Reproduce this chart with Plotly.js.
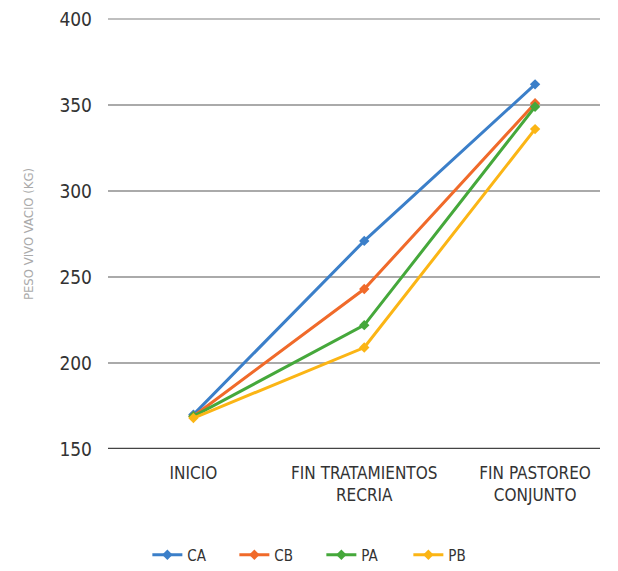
<!DOCTYPE html>
<html><head><meta charset="utf-8">
<script src="https://cdn.plot.ly/plotly-3.0.1.min.js"></script>
<style>body{margin:0;background:#fff}#c{width:618px;height:571px}</style>
</head><body><div id="c"></div>
<script>
const categories = ["INICIO", "FIN TRATAMIENTOS<br>RECRIA", "FIN PASTOREO<br>CONJUNTO"];
const CA = [170, 271, 362];
const CB = [169, 243, 351];
const PA = [169, 222, 349];
const PB = [168, 209, 336];
const seriesNames = ["CA", "CB", "PA", "PB"];
const seriesValues = [CA, CB, PA, PB];
const colors = ["#3b7fc9", "#f06a2a", "#45a83b", "#fbb515"];

const traces = seriesValues.map((v, i) => ({
  type: "scatter", mode: "lines+markers", name: seriesNames[i],
  x: [0, 1, 2], y: v,
  line: {color: colors[i], width: 3},
  marker: {symbol: "diamond", size: 8, color: colors[i]}
}));

const FONT = "DejaVu Sans Condensed, Liberation Sans Narrow, Arial Narrow, sans-serif";
const layout = {
  width: 618, height: 571,
  margin: {l: 108, r: 18, t: 19, b: 122},
  paper_bgcolor: "#fff", plot_bgcolor: "#fff",
  font: {family: FONT, color: "#333"},
  showlegend: true,
  legend: {orientation: "h", x: 0.52, xanchor: "center", xref: "container",
           y: 0.028, yanchor: "middle", yref: "container",
           entrywidth: 42, entrywidthmode: "pixels",
           font: {size: 15, color: "#333"}, itemwidth: 30, tracegroupgap: 0},
  xaxis: {
    range: [-0.5, 2.38], tickmode: "array", tickvals: [0, 1, 2], ticktext: categories,
    showgrid: false, zeroline: false, showline: false, ticks: "", automargin: false,
    ticklabelstandoff: 12,
    tickfont: {size: 17, color: "#333"}
  },
  yaxis: {
    range: [150, 400], tickvals: [150, 200, 250, 300, 350, 400],
    showgrid: true, gridcolor: "#aaaaaa", gridwidth: 1.5, automargin: false,
    zeroline: false, showline: false, ticks: "",
    tickfont: {size: 19, color: "#333"}, ticklabelstandoff: 15,
    title: {text: "PESO VIVO VACIO (KG)", font: {size: 13, color: "#aaa"}, standoff: 22}
  },
  shapes: [
    {type: "line", xref: "paper", yref: "paper", x0: 0, x1: 1, y0: 1, y1: 1,
     line: {color: "#aaaaaa", width: 1.5}},
    {type: "line", xref: "paper", yref: "y", x0: 0, x1: 1, y0: 150, y1: 150,
     line: {color: "#444", width: 2.5}}]
};
Plotly.newPlot("c", traces, layout, {displayModeBar: false, staticPlot: true});
</script></body></html>
